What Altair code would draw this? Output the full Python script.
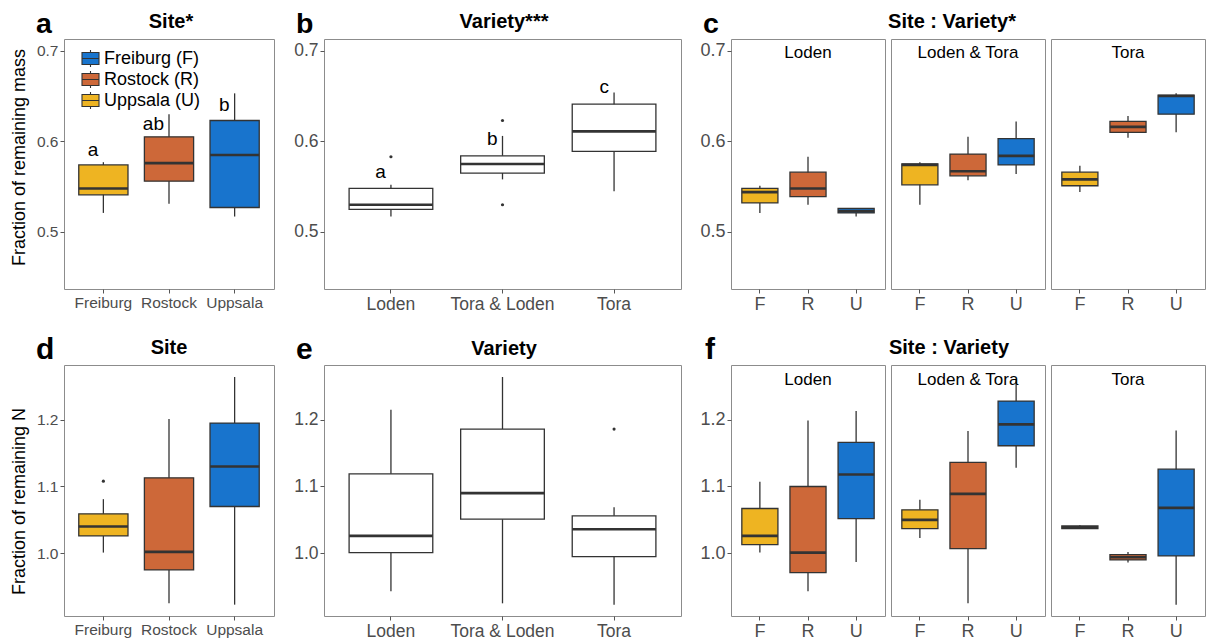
import altair as alt
import pandas as pd

FONT = "Liberation Sans"
DARK = "#333333"
FRAME = "#8c8c8c"
LBL = "#4d4d4d"
YELLOW, ORANGE, BLUE = "#EEB422", "#CD6839", "#1874CD"

# ---------------- data ----------------
sites = ["Freiburg", "Rostock", "Uppsala"]
site_abbr = ["F", "R", "U"]
varieties_b = ["Loden", "Tora & Loden", "Tora"]
varieties_c = ["Loden", "Loden & Tora", "Tora"]
legend_labels = ["Freiburg (F)", "Rostock (R)", "Uppsala (U)"]

# panel a: remaining mass by site  (lower whisker, Q1, median, Q3, upper whisker)
a_lo = [0.521, 0.531, 0.517]
a_q1 = [0.541, 0.556, 0.527]
a_med = [0.548, 0.576, 0.585]
a_q3 = [0.574, 0.605, 0.623]
a_hi = [0.577, 0.630, 0.653]
a_letters = ["a", "ab", "b"]
a_letter_y = [0.584, 0.612, 0.634]

# panel b: remaining mass by variety
b_lo = [0.517, 0.558, 0.545]
b_q1 = [0.525, 0.565, 0.589]
b_med = [0.530, 0.575, 0.611]
b_q3 = [0.548, 0.584, 0.641]
b_hi = [0.552, 0.606, 0.654]
b_out_cat = ["Loden", "Tora & Loden", "Tora & Loden"]
b_out_val = [0.583, 0.623, 0.530]
b_letters = ["a", "b", "c"]
b_letter_y = [0.560, 0.596, 0.653]

# panel c: remaining mass, site within variety (F, R, U)
c_lo = {"Loden": [0.521, 0.530, 0.517], "Loden & Tora": [0.530, 0.557, 0.564], "Tora": [0.544, 0.604, 0.610]}
c_q1 = {"Loden": [0.532, 0.539, 0.521], "Loden & Tora": [0.552, 0.562, 0.574], "Tora": [0.551, 0.610, 0.630]}
c_med = {"Loden": [0.544, 0.548, 0.523], "Loden & Tora": [0.574, 0.567, 0.584], "Tora": [0.558, 0.616, 0.650]}
c_q3 = {"Loden": [0.548, 0.566, 0.526], "Loden & Tora": [0.575, 0.586, 0.603], "Tora": [0.566, 0.622, 0.651]}
c_hi = {"Loden": [0.551, 0.583, 0.526], "Loden & Tora": [0.577, 0.605, 0.622], "Tora": [0.573, 0.628, 0.653]}

# panel d: remaining N by site
d_lo = [1.001, 0.925, 0.923]
d_q1 = [1.026, 0.975, 1.070]
d_med = [1.040, 1.002, 1.130]
d_q3 = [1.059, 1.113, 1.195]
d_hi = [1.081, 1.201, 1.264]
d_out_cat = ["Freiburg"]
d_out_val = [1.108]

# panel e: remaining N by variety
e_lo = [0.943, 0.925, 0.923]
e_q1 = [1.001, 1.051, 0.995]
e_med = [1.026, 1.090, 1.036]
e_q3 = [1.119, 1.186, 1.056]
e_hi = [1.215, 1.264, 1.069]
e_out_cat = ["Tora"]
e_out_val = [1.186]

# panel f: remaining N, site within variety (F, R, U)
f_lo = {"Loden": [1.001, 0.943, 0.987], "Loden & Tora": [1.023, 0.925, 1.128], "Tora": [1.037, 0.986, 0.923]}
f_q1 = {"Loden": [1.013, 0.971, 1.052], "Loden & Tora": [1.037, 1.007, 1.161], "Tora": [1.037, 0.990, 0.996]}
f_med = {"Loden": [1.026, 1.001, 1.118], "Loden & Tora": [1.050, 1.089, 1.193], "Tora": [1.039, 0.994, 1.068]}
f_q3 = {"Loden": [1.067, 1.100, 1.166], "Loden & Tora": [1.065, 1.136, 1.228], "Tora": [1.041, 0.998, 1.126]}
f_hi = {"Loden": [1.107, 1.199, 1.213], "Loden & Tora": [1.080, 1.183, 1.261], "Tora": [1.042, 1.002, 1.184]}

mass_domain = [0.437, 0.713]
n_domain = [0.906, 1.282]
mass_ticks = [0.5, 0.6, 0.7]
n_ticks = [1.0, 1.1, 1.2]

site_colors = [YELLOW, ORANGE, BLUE]

# ---------------- helpers ----------------
PAD_IN, PAD_OUT = 0.25, 0.225
GLYPH = "M-1,-0.7H1V0.7H-1Z M-1,0H1 M0,-0.7V-1 M0,0.7V1"


def annot(text, x, y, size, weight="bold", align="left"):
    return alt.Chart(pd.DataFrame({"t": [text]})).mark_text(
        font=FONT, fontSize=size, fontWeight=weight, align=align,
        baseline="alphabetic", color="black"
    ).encode(x=alt.value(x), y=alt.value(y), text="t:N")


def panel(cats, lo, q1, med, q3, hi, ydomain, yticks, width, height, lab_size,
          colored=True, ytitle=None, title_y=None, show_y=True, out_cat=None, out_val=None,
          letters=None, letter_y=None, legend=None, color_domain=None, color_range=None,
          extra=None):
    df = pd.DataFrame({"cat": cats, "lo": lo, "q1": q1, "med": med, "q3": q3, "hi": hi})
    xenc = alt.X("cat:N", sort=cats,
                 scale=alt.Scale(domain=cats, paddingInner=PAD_IN, paddingOuter=PAD_OUT),
                 axis=alt.Axis(title=None, labelAngle=0, labelFontSize=lab_size,
                               labelPadding=2))
    ysc = alt.Scale(domain=ydomain, nice=False, zero=False)
    if show_y:
        kw = dict(values=yticks, format=".1f", title=ytitle, labelFontSize=lab_size,
                  titleFontSize=18, titlePadding=8, labelPadding=2)
        if title_y is not None:
            kw["titleY"] = title_y
        yax = alt.Axis(**kw)
    else:
        yax = None

    def Y(f):
        return alt.Y(f, scale=ysc, axis=yax)

    base = alt.Chart(df)
    layers = [base.mark_rule(color=DARK, strokeWidth=1.3).encode(
        x=xenc, y=Y("lo:Q"), y2="hi:Q")]
    if colored:
        cd = color_domain or cats
        cr = color_range or site_colors
        layers.append(base.mark_bar(stroke=DARK, strokeWidth=1.3).encode(
            x=xenc, y=Y("q1:Q"), y2="q3:Q",
            color=alt.Color("cat:N", scale=alt.Scale(domain=cd, range=cr), legend=legend)))
    else:
        layers.append(base.mark_bar(fill="white", stroke=DARK, strokeWidth=1.3).encode(
            x=xenc, y=Y("q1:Q"), y2="q3:Q"))
    bw = width / (len(cats) - PAD_IN + 2 * PAD_OUT) * (1 - PAD_IN)
    layers.append(base.mark_tick(color=DARK, thickness=2.6, size=bw, opacity=1).encode(
        x=xenc, y=Y("med:Q")))
    if out_cat:
        odf = pd.DataFrame({"cat": out_cat, "v": out_val})
        layers.append(alt.Chart(odf).mark_circle(color=DARK, size=10, opacity=1).encode(
            x=xenc, y=Y("v:Q")))
    if letters:
        ldf = pd.DataFrame({"cat": cats, "lab": letters, "ly": letter_y})
        layers.append(alt.Chart(ldf).mark_text(
            font=FONT, fontSize=19, align="right", dx=-5, baseline="alphabetic", color="black"
        ).encode(x=xenc, y=Y("ly:Q"), text="lab:N"))
    if extra:
        layers.extend(extra)
    return alt.layer(*layers).properties(width=width, height=height)


# ---------------- panels ----------------
W_A, W_B, W_C = 210, 357, 154
H1, H2 = 250, 251
TOP_LETTER = 28.5

legend_map = " : ".join(
    f"datum.label == '{s}' ? '{l}'" for s, l in zip(sites[::-1][:2], legend_labels[:2])
) + f" : '{legend_labels[2]}'"

leg = alt.Legend(orient="none", legendX=17, legendY=10, title=None, padding=0,
                 labelFont=FONT, labelFontSize=18, labelColor="black", labelOffset=4,
                 symbolType=GLYPH, symbolSize=289, symbolStrokeColor=DARK,
                 symbolStrokeWidth=1.1, rowPadding=-6.5, labelExpr=legend_map)

pa = panel(sites, a_lo, a_q1, a_med, a_q3, a_hi, mass_domain, mass_ticks, W_A, H1, 15.5,
           ytitle="Fraction of remaining mass", title_y=118,
           letters=a_letters, letter_y=a_letter_y,
           legend=leg, color_domain=sites[::-1], color_range=site_colors[::-1],
           extra=[annot("a", -28, -6, TOP_LETTER), annot("Site*", 107, -11, 20, align="center")])

pb = panel(varieties_b, b_lo, b_q1, b_med, b_q3, b_hi, mass_domain, mass_ticks, W_B, H1, 17.5,
           colored=False, out_cat=b_out_cat, out_val=b_out_val,
           letters=b_letters, letter_y=b_letter_y,
           extra=[annot("b", -28, -6, TOP_LETTER), annot("Variety***", 180, -11, 20, align="center")])

c_panels = []
for i, v in enumerate(varieties_c):
    ex = [annot(v, W_C / 2, 19, 17, weight="normal", align="center")]
    if i == 0:
        ex += [annot("c", -28, -6, TOP_LETTER),
               annot("Site : Variety*", 221, -11, 20, align="center")]
    c_panels.append(panel(site_abbr, c_lo[v], c_q1[v], c_med[v], c_q3[v], c_hi[v],
                          mass_domain, mass_ticks, W_C, H1, 18, show_y=(i == 0), extra=ex))
pc = alt.hconcat(*c_panels, spacing=6, bounds="flush").resolve_scale(color="independent")

pd_ = panel(sites, d_lo, d_q1, d_med, d_q3, d_hi, n_domain, n_ticks, W_A, H2, 15.5,
            ytitle="Fraction of remaining N", title_y=136, out_cat=d_out_cat, out_val=d_out_val,
            extra=[annot("d", -28, -6, 30), annot("Site", 105, -11, 20, align="center")])

pe = panel(varieties_b, e_lo, e_q1, e_med, e_q3, e_hi, n_domain, n_ticks, W_B, H2, 17.5,
           colored=False, out_cat=e_out_cat, out_val=e_out_val,
           extra=[annot("e", -28, -6, 30), annot("Variety", 180, -10, 20, align="center")])

f_panels = []
for i, v in enumerate(varieties_c):
    ex = [annot(v, W_C / 2, 20, 17, weight="normal", align="center")]
    if i == 0:
        ex += [annot("f", -26, -6, 30), annot("Site : Variety", 218, -11, 20, align="center")]
    f_panels.append(panel(site_abbr, f_lo[v], f_q1[v], f_med[v], f_q3[v], f_hi[v],
                          n_domain, n_ticks, W_C, H2, 18, show_y=(i == 0), extra=ex))
pf = alt.hconcat(*f_panels, spacing=6, bounds="flush").resolve_scale(color="independent")

chart = alt.concat(
    pa, pb, pc, pd_, pe, pf, columns=3, spacing={"row": 76, "column": 50},
    bounds="flush", align="each"
).resolve_scale(
    color="independent"
).properties(
    padding={"left": 1, "top": 1, "right": 5, "bottom": 0},
    background="white",
).configure_view(
    stroke=FRAME, strokeWidth=1
).configure_axis(
    labelFont=FONT, titleFont=FONT, grid=False, domain=False,
    tickColor="#555555", tickSize=4, tickWidth=1,
    labelColor=LBL, titleColor="black", titleFontWeight="normal"
)

chart.save("out.html", embed_options={"renderer": "svg", "actions": False})
